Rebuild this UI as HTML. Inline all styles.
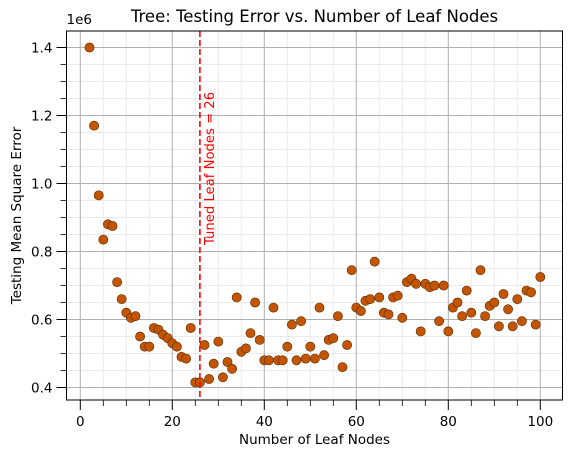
<!DOCTYPE html>
<html><head><meta charset="utf-8"><style>
body{margin:0;background:#fff;}
svg{display:block;font-family:"DejaVu Sans","Liberation Sans",sans-serif;}
</style></head><body>
<svg id="chart" width="572" height="458" viewBox="0 0 572 458">
<rect x="0" y="0" width="572" height="458" fill="#fff"/>
<g id="grid"></g>
<g id="marks"></g>
<g id="axes"></g>
</svg>
<script>
const leafNodes = [];
for (let i = 2; i <= 100; i++) leafNodes.push(i);
const mseValues = [1.40,1.17,0.965,0.835,0.88,0.875,0.71,0.66,0.62,0.605,0.61,0.55,0.52,0.52,0.575,0.57,0.555,0.545,0.53,0.52,0.49,0.485,0.575,0.415,0.415,0.525,0.425,0.47,0.535,0.43,0.475,0.455,0.665,0.505,0.515,0.56,0.65,0.54,0.48,0.48,0.635,0.48,0.48,0.52,0.585,0.48,0.595,0.485,0.52,0.485,0.635,0.495,0.54,0.545,0.61,0.46,0.525,0.745,0.635,0.625,0.655,0.66,0.77,0.665,0.62,0.615,0.665,0.67,0.605,0.71,0.72,0.705,0.565,0.705,0.695,0.70,0.595,0.70,0.565,0.635,0.65,0.61,0.685,0.62,0.56,0.745,0.61,0.64,0.65,0.58,0.675,0.63,0.58,0.66,0.595,0.685,0.68,0.585,0.725];
const xTicks = [0,20,40,60,80,100];
const yTicks = [0.4,0.6,0.8,1.0,1.2,1.4];
const tunedLeaf = 26;

const L=66.5,R=562.5,T=31,B=400;
const sx=v=>80.3+v*4.6;
const sy=v=>47.5+(1.4-v)*340;
const NS="http://www.w3.org/2000/svg";
function mk(tag,attrs,parent){const e=document.createElementNS(NS,tag);for(const k in attrs)e.setAttribute(k,attrs[k]);parent.appendChild(e);return e;}
const grid=document.getElementById('grid'),marks=document.getElementById('marks'),axes=document.getElementById('axes');

for(let x=-5;x<=105;x+=5){const px=sx(x);if(px<L||px>R||x%20===0)continue;
 const g=mk('line',{x1:px,x2:px,y1:T,y2:B,stroke:'#ebebeb','stroke-width':1},grid);
 
 
 const t=mk('line',{x1:px,x2:px,y1:B,y2:B+6,stroke:'#000','stroke-width':0.8},axes);
 
 }
for(let i=7;i<=29;i++){const v=i*0.05;if(i%4===0)continue;const py=sy(v);if(py<T||py>B)continue;
 const g=mk('line',{x1:L,x2:R,y1:py,y2:py,stroke:'#ebebeb','stroke-width':1},grid);
 
 
 const t=mk('line',{x1:L-6,x2:L,y1:py,y2:py,stroke:'#000','stroke-width':0.8},axes);
 
 }
xTicks.forEach(v=>{const px=sx(v);
 const g=mk('line',{x1:px,x2:px,y1:T,y2:B,stroke:'#b0b0b0','stroke-width':1},grid);
 
 
 const t=mk('line',{x1:px,x2:px,y1:B,y2:B+10,stroke:'#000','stroke-width':1},axes);
 
 
 const l=mk('text',{x:px,y:B+26,'text-anchor':'middle','font-size':13.5,fill:'#000'},axes);l.textContent=v;
 
 });
yTicks.forEach(v=>{const py=sy(v);
 const g=mk('line',{x1:L,x2:R,y1:py,y2:py,stroke:'#b0b0b0','stroke-width':1},grid);
 
 
 const t=mk('line',{x1:L-10,x2:L,y1:py,y2:py,stroke:'#000','stroke-width':1},axes);
 
 
 const l=mk('text',{x:L-14,y:py+5,'text-anchor':'end','font-size':13.5,fill:'#000'},axes);l.textContent=v.toFixed(1);
 
 });
leafNodes.forEach((x,i)=>{const c=mk('circle',{cx:sx(x),cy:sy(mseValues[i]),r:4.6,fill:'#c45500',stroke:'#5a2a00','stroke-width':0.6},marks);
 
 });
const tx=sx(tunedLeaf);
const vl=mk('line',{x1:tx,x2:tx,y1:T,y2:B,stroke:'#ff0000','stroke-width':1.6,'stroke-dasharray':'6,3'},marks);


const vt=mk('text',{x:0,y:0,'font-size':13.2,fill:'#ff0000',transform:`translate(${tx+14},245) rotate(-90)`},marks);
vt.textContent='Tuned Leaf Nodes = 26';


const fr=mk('rect',{x:L,y:T,width:R-L,height:B-T,fill:'none',stroke:'#000','stroke-width':1},axes);


const ti=mk('text',{x:(L+R)/2,y:22,'text-anchor':'middle','font-size':16.5,fill:'#000'},axes);ti.textContent='Tree: Testing Error vs. Number of Leaf Nodes';


const xl=mk('text',{x:(L+R)/2,y:444,'text-anchor':'middle','font-size':13.5,fill:'#000'},axes);xl.textContent='Number of Leaf Nodes';


const yl=mk('text',{x:0,y:0,'text-anchor':'middle','font-size':13.5,fill:'#000',transform:`translate(21,${(T+B)/2}) rotate(-90)`},axes);yl.textContent='Testing Mean Square Error';


const off=mk('text',{x:L,y:24,'font-size':13.5,fill:'#000'},axes);off.textContent='1e6';


</script>
</body></html>
